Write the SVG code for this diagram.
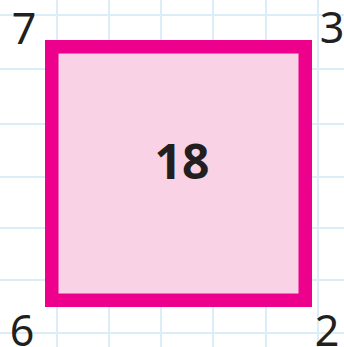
<svg xmlns="http://www.w3.org/2000/svg" width="344" height="347" viewBox="0 0 344 347">
<style>
.grid line{stroke:#dbeef8;stroke-width:2}
.corner{font-family:"Noto Sans","DejaVu Sans",sans-serif;font-size:43px;fill:#231f20;text-anchor:middle}
.big{font-family:"Noto Sans","Liberation Sans",sans-serif;font-weight:bold;font-size:48px;fill:#231f20;text-anchor:middle}
</style>
<rect width="344" height="347" fill="#ffffff"/>
<g class="grid">
<line x1="57" y1="0" x2="57" y2="347"/>
<line x1="109" y1="0" x2="109" y2="347"/>
<line x1="161" y1="0" x2="161" y2="347"/>
<line x1="213" y1="0" x2="213" y2="347"/>
<line x1="266" y1="0" x2="266" y2="347"/>
<line x1="318" y1="0" x2="318" y2="347"/>
<line x1="0" y1="15" x2="344" y2="15"/>
<line x1="0" y1="69" x2="344" y2="69"/>
<line x1="0" y1="124" x2="344" y2="124"/>
<line x1="0" y1="177" x2="344" y2="177"/>
<line x1="0" y1="228" x2="344" y2="228"/>
<line x1="0" y1="280" x2="344" y2="280"/>
<line x1="0" y1="333" x2="344" y2="333"/>
</g>
<g id="square">
<rect x="51.75" y="46.75" width="253.5" height="253.5" fill="#f9d3e5" stroke="#ec008c" stroke-width="13.5"/>
<text class="big" x="182" y="179">18</text>
</g>
<g id="corners">
<text class="corner" x="24" y="44">7</text>
<text class="corner" x="332" y="43">3</text>
<text class="corner" x="22" y="346">6</text>
<text class="corner" x="327" y="346">2</text>
</g>
</svg>
